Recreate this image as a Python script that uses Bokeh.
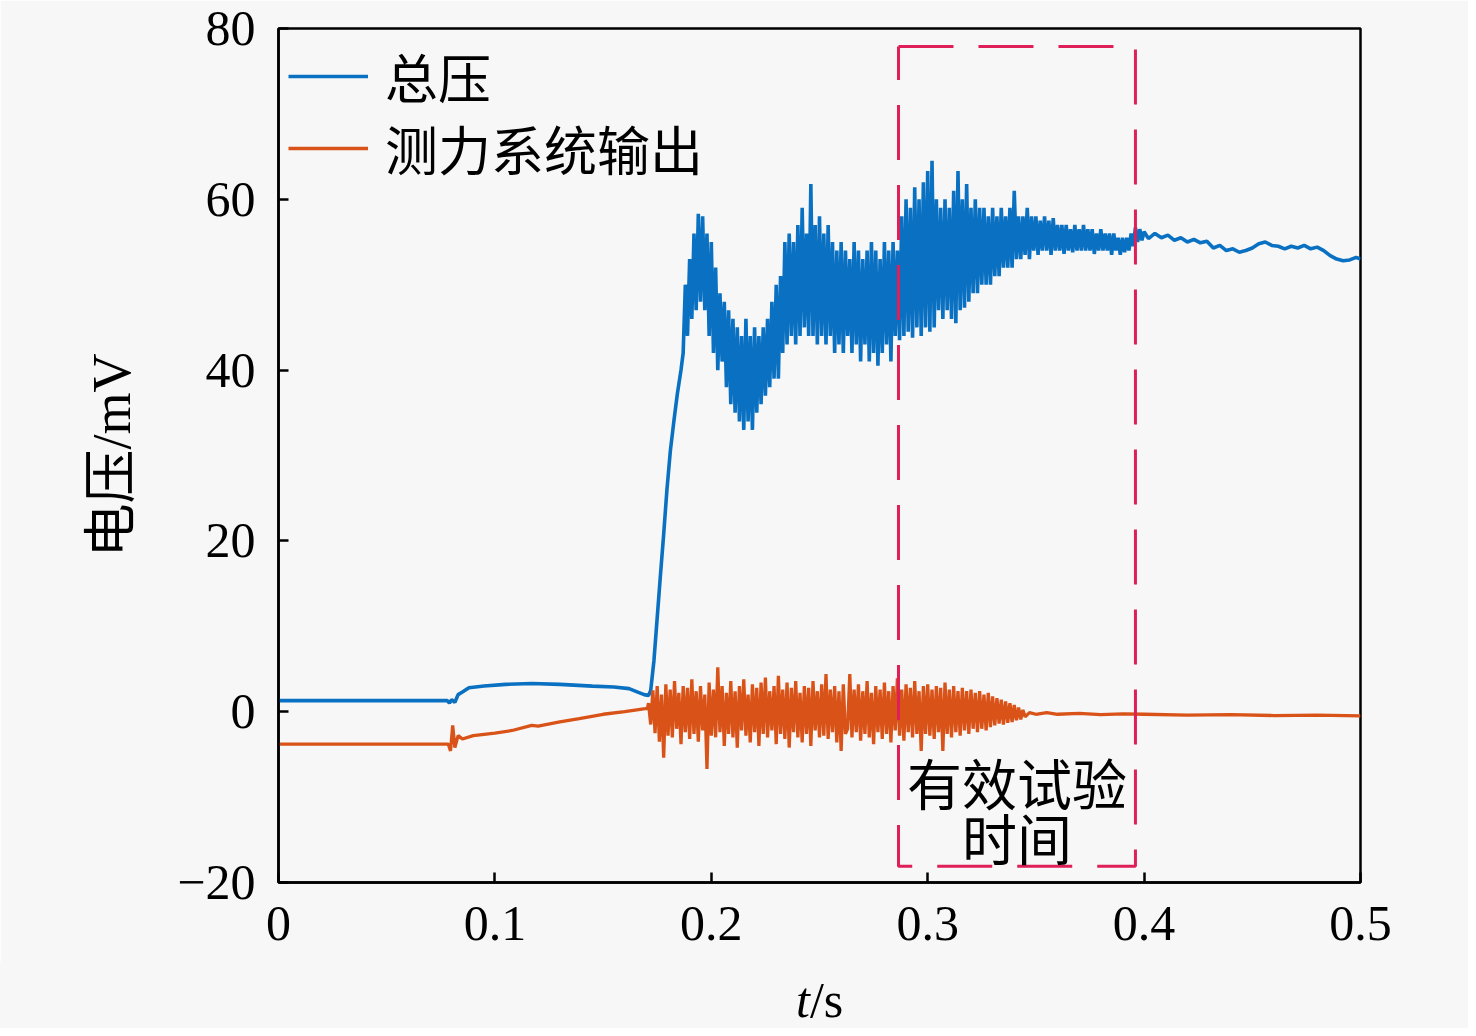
import numpy as np
from bokeh.plotting import figure
from bokeh.models import Range1d, FixedTicker, Legend, LegendItem, Label, Div
from bokeh.layouts import column
from bokeh.embed import file_html
from bokeh.resources import INLINE

# ---------------- data ----------------
# total pressure (blue): quiet start + rise
blue_head_t = [0.000, 0.078, 0.079, 0.080, 0.0815, 0.083, 0.085, 0.088, 0.095, 0.105,
               0.117, 0.130, 0.145, 0.155, 0.162, 0.166, 0.169, 0.171, 0.172, 0.1735,
               0.175, 0.1765, 0.178, 0.1795, 0.1811, 0.1827, 0.1843, 0.186]
blue_head_v = [1.3, 1.3, 1.0, 1.4, 1.1, 2.0, 2.3, 2.8, 3.0, 3.2,
               3.3, 3.2, 3.0, 2.9, 2.7, 2.3, 2.0, 1.9, 2.5, 6.0,
               11.0, 16.0, 20.8, 26.0, 30.6, 34.0, 37.2, 40.0]
# noisy part, one sample per ms from 0.187 s to 0.400 s
blue_noisy_start = 0.187
blue_noisy_v = [
    42, 50, 44, 53, 46, 56, 47, 58.3, 48, 58,
    47, 56, 44, 55, 42, 52, 40, 49, 41, 48,
    38, 47, 36, 46, 35, 45, 34, 44, 33, 46,
    34, 44, 33, 45, 35, 44, 36, 45, 37, 46,
    38, 48, 39, 50, 39, 51, 42, 55, 43, 56,
    44, 55, 43, 57, 44, 59, 45, 56, 44, 61.8,
    44, 57, 43, 58, 44, 56, 43, 57, 44, 55,
    42, 54, 43, 55, 42, 54, 44, 53, 42, 55,
    43, 54, 41, 53, 43, 54, 41, 55, 42, 54,
    40.5, 53, 42, 55, 43, 54, 41, 55, 44, 54,
    43.5, 58, 44, 60, 44.5, 59, 43.8, 61.4, 45, 60,
    44, 62, 45, 63.3, 44.5, 64.5, 45, 60, 47, 59,
    46, 60, 47, 59, 46, 61, 45.5, 63.3, 47, 60,
    47.3, 61.8, 48, 59, 49, 60, 49, 59, 50, 59,
    50, 58, 50, 59, 51, 58, 51, 59, 52, 58,
    52, 59, 52, 61, 53, 58, 53, 58, 53.5, 59,
    53, 58, 54, 58, 53.5, 57.5, 54, 58, 54, 57.5,
    53.5, 57.8, 54, 57, 54, 57, 53.6, 57, 54, 56.5,
    53.8, 57, 54, 56.5, 54, 57, 54, 56.5, 54, 56.5,
    53.6, 56, 54, 56.5, 54, 56, 54, 56, 53.5, 56,
    54, 55.5, 53.5, 55.5, 53.8, 55.5, 54, 56, 54.5, 56.7,
    55, 56.5, 55.2, 56.2]
blue_tail_t = [0.402, 0.405, 0.408, 0.411, 0.414, 0.417, 0.420, 0.423, 0.426, 0.429,
               0.432, 0.435, 0.438, 0.441, 0.444, 0.447, 0.450, 0.453, 0.456, 0.459,
               0.462, 0.465, 0.468, 0.471, 0.474, 0.477, 0.480, 0.483, 0.486, 0.489,
               0.492, 0.495, 0.498, 0.500]
blue_tail_v = [55.4, 56.0, 55.5, 55.8, 55.2, 55.5, 55.0, 55.3, 54.9, 55.1,
               54.3, 54.6, 54.0, 54.2, 53.8, 54.0, 54.3, 54.8, 55.0, 54.6,
               54.5, 54.2, 54.5, 54.3, 54.6, 54.2, 54.4, 54.0, 53.4, 53.0,
               52.8, 52.9, 53.2, 53.0]

# force measuring system output (orange)
orange_head_t = [0.000, 0.0785, 0.0795, 0.0805, 0.0815, 0.083, 0.085, 0.090, 0.100, 0.108,
                 0.117, 0.120, 0.130, 0.139, 0.150, 0.160, 0.1695, 0.1705]
orange_head_v = [-3.8, -3.8, -4.6, -1.6, -4.2, -2.8, -3.2, -2.8, -2.5, -2.2,
                 -1.6, -1.7, -1.2, -0.8, -0.3, 0.0, 0.35, 0.4]
orange_noisy_start = 0.171
orange_noisy_v = [
    1.0, -1.5, 2.5, -2.5, 3.0, -3.5, 2.0, -5.4, 3.2, -2.8,
    2.6, -3.0, 3.6, -2.0, 2.2, -3.8, 3.0, -2.4, 2.8, -3.2,
    3.8, -2.6, 2.4, -3.5, 3.0, -2.2, 2.0, -6.7, 3.4, -2.8,
    2.6, -3.0, 5.2, -2.4, 3.0, -4.0, 2.2, -2.6, 3.6, -3.0,
    2.4, -4.2, 3.0, -2.2, 3.8, -2.8, 2.0, -3.6, 3.2, -2.4,
    2.8, -4.0, 3.4, -2.6, 4.0, -3.0, 2.4, -2.2, 3.0, -3.8,
    4.2, -2.6, 2.6, -3.2, 3.4, -4.2, 2.8, -2.4, 3.6, -3.0,
    2.2, -3.6, 3.0, -2.6, 2.8, -4.0, 3.6, -2.2, 2.4, -3.0,
    3.2, -2.8, 4.4, -3.2, 2.6, -2.4, 3.0, -3.6, 2.4, -4.6,
    3.2, -2.6, -2.0, 4.4, -3.0, 2.6, -2.4, 3.2, -3.4, 2.4,
    -2.6, 3.6, -3.0, 2.2, -3.8, 3.0, -2.4, 2.6, -3.2, 3.4,
    -2.6, 2.4, -3.6, 3.0, -2.2, 3.9, -2.8, 2.6, -3.4, 3.2,
    -2.4, 2.8, -3.0, 3.6, -2.6, 2.4, -4.6, 3.0, -2.6, 3.2,
    -2.8, 2.6, -3.2, 3.0, -2.4, 2.8, -4.6, 3.4, -2.6, 2.6,
    -3.0, 3.0, -2.4, 2.4, -2.8, 2.8, -2.2, 2.4, -2.6, 2.6,
    -2.0, 2.2, -2.4, 2.4, -2.0, 2.0, -2.2, 2.2, -1.8, 1.8,
    -1.6, 1.6, -1.4, 1.4, -1.5, 1.2, -1.3, 1.0, -1.2, 0.8,
    -1.0, 0.5, -0.9, 0.2, -0.6]
orange_tail_t = [0.347, 0.350, 0.355, 0.360, 0.370, 0.380, 0.390, 0.400, 0.420, 0.440,
                 0.460, 0.480, 0.500]
orange_tail_v = [-0.1, -0.3, -0.1, -0.3, -0.2, -0.35, -0.25, -0.3, -0.4, -0.35,
                 -0.45, -0.4, -0.5]

series_names = ["总压", "测力系统输出"]
x_ticks = [0, 0.1, 0.2, 0.3, 0.4, 0.5]
x_tick_labels = ["0", "0.1", "0.2", "0.3", "0.4", "0.5"]
y_ticks = [-20, 0, 20, 40, 60, 80]
y_tick_labels = ["\u221220", "0", "20", "40", "60", "80"]
y_title = "电压/mV"
box_t = [0.2865, 0.396]          # effective test time window
box_v = [-18.1, 77.9]
box_text = ["有效试验", "时间"]

# ---------------- assemble series ----------------
def assemble(head_t, head_v, start, noisy_v, tail_t, tail_v):
    nt = np.round(start + 0.001 * np.arange(len(noisy_v)), 4)
    t = np.concatenate([head_t, nt, tail_t])
    v = np.concatenate([head_v, noisy_v, tail_v])
    return t, v

bt, bv = assemble(blue_head_t, blue_head_v, blue_noisy_start, blue_noisy_v, blue_tail_t, blue_tail_v)
ot, ov = assemble(orange_head_t, orange_head_v, orange_noisy_start, orange_noisy_v, orange_tail_t, orange_tail_v)

BG = "#f7f7f7"
BLUE = "#0a70c2"
ORANGE = "#d95319"
BOXC = "#de1f58"
SERIF = "Liberation Serif"
CJK = "Noto Sans CJK SC"

W = 1468
p = figure(width=W, height=962, output_backend="svg", toolbar_location=None,
           x_range=Range1d(0, 0.5), y_range=Range1d(-20, 80),
           min_border_left=278, min_border_right=108, min_border_top=28, min_border_bottom=80,
           background_fill_color=BG, border_fill_color=BG)
p.grid.visible = False
p.outline_line_color = "black"
p.outline_line_width = 2.5

r_blue = p.line(bt, bv, line_color=BLUE, line_width=3.6)
r_orange = p.line(ot, ov, line_color=ORANGE, line_width=3.3)

# dashed window
p.line([box_t[0], box_t[1], box_t[1], box_t[0], box_t[0]],
       [box_v[1], box_v[1], box_v[0], box_v[0], box_v[1]],
       line_color=BOXC, line_width=3, line_dash="55 25")

for ax in (p.xaxis[0], p.yaxis[0]):
    ax.axis_line_width = 2.5
    ax.axis_line_color = "black"
    ax.major_tick_in = 10
    ax.major_tick_out = 0
    ax.major_tick_line_width = 2.5
    ax.minor_tick_line_color = None
    ax.major_label_text_font = SERIF
    ax.major_label_text_font_size = "50px"
    ax.major_label_text_color = "black"

p.xaxis.ticker = FixedTicker(ticks=x_ticks)
p.xaxis.major_label_overrides = {k: s for k, s in zip(x_ticks, x_tick_labels)}
p.xaxis.major_label_standoff = 24
p.yaxis.ticker = FixedTicker(ticks=y_ticks)
p.yaxis.major_label_overrides = {k: s for k, s in zip(y_ticks, y_tick_labels)}
p.yaxis.major_label_standoff = 23

p.yaxis.axis_label = y_title
p.yaxis.axis_label_text_font = SERIF + ", " + CJK
p.yaxis.axis_label_text_font_size = "54px"
p.yaxis.axis_label_text_font_style = "normal"
p.yaxis.axis_label_text_color = "black"
p.yaxis.axis_label_standoff = 32

# window caption
p.add_layout(Label(x=(box_t[0] + box_t[1]) / 2, y=-8.1, text=box_text[0],
                   text_align="center", text_baseline="middle",
                   text_font=CJK, text_font_size="55px", text_color="black"))
p.add_layout(Label(x=(box_t[0] + box_t[1]) / 2, y=-14.6, text=box_text[1],
                   text_align="center", text_baseline="middle",
                   text_font=CJK, text_font_size="55px", text_color="black"))


def make_legend(name, renderer, location):
    lg = Legend(items=[LegendItem(label=name, renderers=[renderer])], location=location)
    lg.background_fill_alpha = 0
    lg.border_line_alpha = 0
    lg.label_text_font = CJK
    lg.label_text_font_size = "53px"
    lg.label_text_line_height = 1.0
    lg.label_text_color = "black"
    lg.glyph_width = 80
    lg.glyph_height = 70
    lg.label_height = 70
    lg.spacing = 0
    lg.padding = 0
    lg.margin = 10
    lg.label_standoff = 17
    return lg


p.add_layout(make_legend(series_names[0], r_blue, "top_left"))
p.add_layout(make_legend(series_names[1], r_orange, (10, 696)))

# x-axis title with italic t (HTML text)
x_title = Div(text='<div style="font-family:\'Liberation Serif\',serif;font-size:50px;'
                   'line-height:50px;color:black;padding-left:796px;padding-top:13px;'
                   'white-space:nowrap;"><i>t</i>/s</div>',
              width=W, height=66, styles={"background-color": BG, "margin": "0"})

layout = column(p, x_title, spacing=0)
open("out.html", "w").write(file_html(layout, INLINE))
